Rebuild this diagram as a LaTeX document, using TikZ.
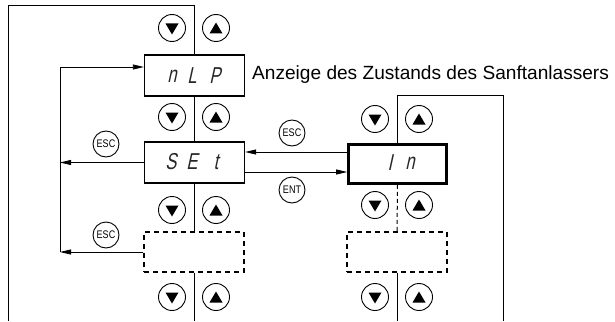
\documentclass[tikz,border=0pt]{standalone}
\usepackage{fontspec}
\setmainfont{Liberation Sans}
\newfontfamily\segfont[FakeSlant=0.22,FakeStretch=0.72]{Liberation Sans}
\newfontfamily\keyfont[FakeStretch=0.82]{Liberation Sans}
\usetikzlibrary{arrows.meta,calc}
\tikzset{
  ln/.style={line width=0.8pt},
  arr/.style={line width=0.8pt,-{Triangle[length=11pt,width=5pt]}},
  disp/.style={draw,line width=1.3pt,minimum width=100pt,minimum height=41pt,inner sep=0pt},
  dispthick/.style={draw,line width=2.6pt,minimum width=98pt,minimum height=39pt,inner sep=0pt},
  dbox/.style={draw,line width=1.3pt,dash pattern=on 5pt off 4pt,minimum width=100pt,minimum height=40pt,inner sep=0pt},
  btn/.style={circle,draw,line width=0.9pt,minimum size=27pt,inner sep=0pt},
  dnbtn/.style={btn,path picture={\fill ([xshift=-6.5pt,yshift=4.5pt]path picture bounding box.center) -- ++(13pt,0) -- ++(-6.5pt,-11pt) -- cycle;}},
  upbtn/.style={btn,path picture={\fill ([xshift=-6.5pt,yshift=-5.5pt]path picture bounding box.center) -- ++(13pt,0) -- ++(-6.5pt,11pt) -- cycle;}},
  keybtn/.style={circle,draw,line width=0.9pt,minimum size=26pt,inner sep=0pt,font=\keyfont\fontsize{11}{11}\selectfont},
  seg/.style={font=\segfont\fontsize{23}{23}\selectfont,inner sep=0pt,text=black!85}
}
\begin{document}
\begin{tikzpicture}[x=1pt,y=-1pt]
\useasboundingbox (0,0) rectangle (615,321);
% display boxes
\node[disp] (nlp) at (194.5,75.5) {};
\node[disp] (set) at (194.5,162.5) {};
\node[dbox] (dl) at (194,252) {};
\node[dispthick] (in) at (397.5,164) {};
\node[dbox] (dr) at (397,252) {};
% display texts
\node[seg] (t1) at (172,76) {n};
\node[seg] (t2) at (192,76) {L};
\node[seg] (t3) at (215,76) {P};
\node[seg] (t4) at (171,162) {S};
\node[seg] (t5) at (192,162) {E};
\node[seg] (t6) at (216,162) {t};
\node[seg] (t7) at (390,163) {I};
\node[seg] (t8) at (410,163) {n};
% caption
\node[anchor=base west,inner sep=0pt,font=\fontsize{19.1}{19}\selectfont] (cap) at (252,79) {Anzeige des Zustands des Sanftanlassers};
% coordinates
\coordinate (tl) at (8,5);
\coordinate (bl) at (8,321);
\coordinate (bc) at (194,321);
\coordinate (lt) at (60,67);
\coordinate (lb) at (60,252);
\coordinate (tr) at (503,95);
\coordinate (br) at (503,321);
\coordinate (brc) at (397,321);
% outer left loop
\draw[ln] (nlp.north) |- (tl) -- (bl);
\draw[ln] (nlp.south) -- (set.north);
\draw[ln] (set.south) |- ([yshift=0.65pt]dl.north);
\draw[ln] (dl.south) -- (bc);
% inner left loop
\draw[arr] (lb) -- (lt) -- (lt -| nlp.west);
\draw[arr] (set.west) -- (set.west -| lt);
\draw[arr] (dl.west) -- (dl.west -| lt);
% set <-> in
\draw[arr] ([yshift=12pt]in.west) -- ([yshift=12pt]in.west -| set.east);
\draw[arr] ([yshift=-9.5pt]set.east) -- ([yshift=-9.5pt]set.east -| in.west);
% right loop
\draw[ln] (in.north) |- (tr) -- (br);
\draw[line width=1pt,dash pattern=on 4pt off 3pt] (in.south) -- (dr.north);
\draw[ln] (dr.south) -- (brc);
% key buttons
\node[keybtn] (esc1) at (292,133) {ESC};
\node[keybtn] (ent1) at (292,190) {ENT};
\node[keybtn] (esc2) at (106,144) {ESC};
\node[keybtn] (esc3) at (106,235) {ESC};
% arrow buttons left
\node[dnbtn] (d1) at (172,28) {};
\node[upbtn] (u1) at (216,28) {};
\node[dnbtn] (d2) at (172,117) {};
\node[upbtn] (u2) at (216,117) {};
\node[dnbtn] (d3) at (172,210) {};
\node[upbtn] (u3) at (216,210) {};
\node[dnbtn] (d4) at (172,297) {};
\node[upbtn] (u4) at (216,297) {};
% arrow buttons right
\node[dnbtn] (d5) at (375,119) {};
\node[upbtn] (u5) at (419,119) {};
\node[dnbtn] (d6) at (375,205) {};
\node[upbtn] (u6) at (419,205) {};
\node[dnbtn] (d7) at (375,297) {};
\node[upbtn] (u7) at (419,297) {};
\end{tikzpicture}
\end{document}
